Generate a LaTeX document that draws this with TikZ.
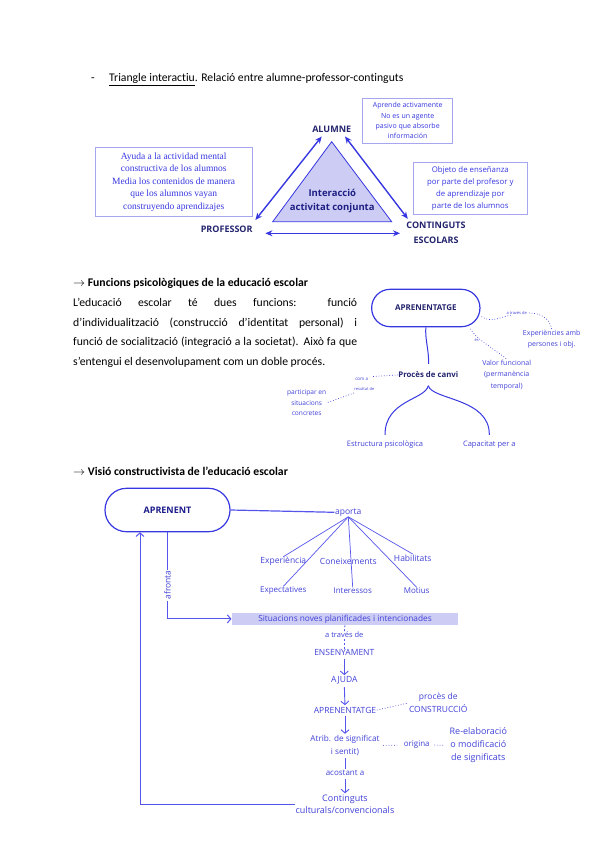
\documentclass[tikz,border=0pt]{standalone}
\usepackage{fontspec}
\setmainfont{Carlito}[Ligatures=NoCommon]
\newfontfamily\osans{Open Sans}
\newfontfamily\lserif{Liberation Serif}
\usetikzlibrary{arrows.meta}
\definecolor{dblue}{RGB}{55,55,225}
\definecolor{lblue}{RGB}{85,85,235}
\definecolor{navy}{RGB}{35,35,110}
\definecolor{boxline}{RGB}{165,165,240}
\definecolor{lav}{RGB}{204,204,244}
\definecolor{txtblue}{RGB}{65,65,215}
\begin{document}
\begin{tikzpicture}[x=1pt,y=-1pt,
  body/.style={inner sep=0, anchor=base west, font=\fontsize{11.7}{13}\selectfont},
  tri/.style={inner sep=0, text=navy, font=\osans\bfseries\fontsize{9}{15}\selectfont, align=center},
  tarrow/.style={dblue, line width=1.4pt, {Stealth[length=7pt,width=6pt]}-{Stealth[length=7pt,width=6pt]}},
  infobox/.style={draw=boxline, line width=0.8pt, fill=white, align=center, text=dblue, inner sep=0},
  mlab/.style={inner sep=0.5pt, text=txtblue, font=\osans\fontsize{7}{11.7}\selectfont, align=center},
  tiny/.style={inner sep=0.3pt, fill=white, text=txtblue, font=\osans\fontsize{4}{5}\selectfont},
  dotl/.style={txtblue, line width=0.7pt, dotted},
  blab/.style={inner sep=0.5pt, text=txtblue, font=\osans\fontsize{8.5}{12}\selectfont, align=center},
  barrow/.style={lblue, line width=0.9pt, -{Straight Barb[length=3.5pt,width=8pt]}},
]
\useasboundingbox (0,0) rectangle (600,848);

% ---------- Section 1 ----------
\node[body] (dash1) at (91,81.5) {-};
\node[body] (h1) at (109,81.5) {\underline{Triangle interactiu}. Relació entre alumne-professor-continguts};

\node[infobox, minimum width=90, minimum height=45, font=\osans\fontsize{7}{10.3}\selectfont] (b1) at (407.7,120.8) {Aprende activamente\\No es un agente\\pasivo que absorbe\\información};
\node[infobox, minimum width=157, minimum height=69, font=\lserif\fontsize{9.5}{12.5}\selectfont] (b2) at (173.7,182) {Ayuda a la actividad mental\\constructiva de los alumnos\\Media los contenidos de manera\\que los alumnos vayan\\construyendo aprendizajes};
\node[infobox, minimum width=114, minimum height=52, font=\osans\fontsize{7.8}{12}\selectfont] (b3) at (470.3,188.8) {Objeto de enseñanza\\por parte del profesor y\\de aprendizaje por\\parte de los alumnos};

\draw[dblue, line width=0.8pt, fill=lav] (331.7,141.7) -- (272.7,221.7) -- (391.7,221.7) -- cycle;
\node[tri, font=\osans\bfseries\fontsize{9.5}{14.3}\selectfont, text=navy!85!blue] (inter) at (332.3,201) {Interacció\\activitat conjunta};

\node[tri] (alumne) at (331.7,129.3) {ALUMNE};
\node[tri] (professor) at (226.7,229.3) {PROFESSOR};
\node[tri] (contingut) at (436,232.5) {CONTINGUTS\\ESCOLARS};

\draw[tarrow] ([shift={(-10,3.7)}]alumne.south) -- ([shift={(2.6,-5.8)}]professor.north east);
\draw[tarrow] ([shift={(13.3,3.7)}]alumne.south) -- ([shift={(1.5,-2.7)}]contingut.north west);
\draw[tarrow] ([shift={(12.6,4)}]professor.east) -- ([shift={(-6.3,0.8)}]contingut.west);

% ---------- Section 2 ----------
\node[body] (h2) at (73,286) {\bfseries$\rightarrow$ Funcions psicològiques de la educació escolar};
\node[inner sep=0, anchor=base west] (par) at (73,306.5) {\parbox[t]{284pt}{\fontsize{11.7}{19.5}\selectfont\hyphenpenalty=10000\spaceskip=0.22em plus 1em minus 0.12em L’educació escolar té dues funcions: funció\linebreak d’individualització (construcció d’identitat personal) i\linebreak funció de socialització (integració a la societat). Això fa que\linebreak s’entengui el desenvolupament com un doble procés.}};

\node[draw=dblue, line width=1.2pt, rounded corners=18.5pt, minimum width=108.3, minimum height=37.4, inner sep=0, text=navy, font=\osans\bfseries\fontsize{8}{10}\selectfont] (apr) at (425.8,308) {APRENENTATGE};
\node[inner sep=0, text=navy, font=\osans\bfseries\fontsize{7.8}{10}\selectfont] (proc) at (428.3,375) {Procès de canvi};
\draw[dblue, line width=1pt, shorten >=8pt] (apr.south) .. controls (425,340) and (429,350) .. (proc.north);

\node[mlab, font=\osans\fontsize{7.5}{10}\selectfont] (estr) at (385,444.3) {Estructura psicològica};
\node[mlab, font=\osans\fontsize{7.5}{10}\selectfont] (capac) at (489.3,444.3) {Capacitat per a};
\draw[dblue, line width=1pt] ([yshift=-7.5pt]proc.south) .. controls (425,400) and (385,400) .. ([yshift=5pt]estr.north);
\draw[dblue, line width=1pt] ([yshift=-7.5pt]proc.south) .. controls (432,400) and (490,398) .. ([yshift=5pt]capac.north);

\node[mlab] (exp) at (551.7,339.2) {Experiències amb\\persones i obj.};
\node[mlab] (val) at (506.7,375) {Valor funcional\\(permanència\\temporal)};
\node[mlab, font=\osans\fontsize{6.6}{10.5}\selectfont] (part) at (306.7,402.8) {participar en\\situacions\\concretes};

\draw[dotl] ([shift={(1,8.7)}]apr.east) .. controls (490,322) and (496,319) .. (507,316) .. controls (530,310) and (548,312) .. (exp.north);
\node[tiny] (lab1) at (516.7,313.3) {a través de};
\draw[dotl] ([shift={(-10,1.6)}]apr.south east) .. controls (475,338) and (490,346) .. (val.north);
\node[tiny] (lab2) at (476.7,340) {és};
\draw[dotl] (proc.west) -- (372,376.5);
\draw[dotl] (354,393) -- (part.east);
\node[tiny, font=\osans\fontsize{4.5}{5}\selectfont] (lab3) at (361.7,379.3) {com a};
\node[tiny] (lab4) at (364.3,389.3) {resultat de};

% ---------- Section 3 ----------
\node[body] (h3) at (73,475) {\bfseries$\rightarrow$ Visió constructivista de l’educació escolar};

\node[draw=dblue, line width=1.2pt, rounded corners=21.5pt, minimum width=125, minimum height=43.4, inner sep=0, text=navy!80!blue, font=\osans\bfseries\fontsize{9}{11}\selectfont] (apt) at (167.5,510) {APRENENT};
\node[blab] (aporta) at (348.3,512.3) {aporta};
\draw[lblue, line width=1.2pt] (apt.east) -- (aporta.west);

\node[blab] (exper) at (283.3,561.7) {Experiència};
\node[blab] (conei) at (348.3,561.7) {Coneixements};
\node[blab] (habil) at (412.7,558) {Habilitats};
\node[blab, font=\osans\fontsize{8}{12}\selectfont] (expect) at (283.3,591) {Expectatives};
\node[blab, font=\osans\fontsize{8}{12}\selectfont] (inter2) at (352.7,591) {Interessos};
\node[blab, font=\osans\fontsize{8}{12}\selectfont] (motius) at (416.7,591) {Motius};
\foreach \t in {exper,expect,inter2,motius,habil}
  \draw[lblue, line width=0.7pt] (aporta.south) -- (\t.north);

\node[fill=lav, minimum width=226.6, minimum height=12.3, inner sep=0, text=txtblue, font=\osans\fontsize{8.3}{10}\selectfont] (sit) at (345,618.9) {Situacions noves planificades i intencionades};
\draw[barrow, line width=1pt] (apt.south) |- (sit.west);
\node[rotate=90, fill=white, inner sep=1pt, text=txtblue, font=\osans\fontsize{8.5}{10}\selectfont] (afr) at (167.5,585) {afronta};

\node[blab, font=\osans\fontsize{7.5}{10}\selectfont] (atraves) at (344.3,635) {a través de};
\node[blab] (ens) at (344.3,652.7) {ENSENYAMENT};
\node[blab] (ajuda) at (344.3,680.7) {AJUDA};
\node[blab] (apr2) at (345,710) {APRENENTATGE};
\node[blab, font=\osans\fontsize{8.5}{12.6}\selectfont] (proces2) at (438.3,703) {procès de\\CONSTRUCCIÓ};
\node[blab, font=\osans\fontsize{8.2}{12.4}\selectfont] (atrib) at (345,745.5) {Atrib. de significat\\i sentit)};
\node[blab, font=\osans\fontsize{8}{12}\selectfont] (origina) at (416.7,745) {origina};
\node[blab, font=\osans\fontsize{9}{12.8}\selectfont] (reel) at (478.3,745.3) {Re-elaboració\\o modificació\\de significats};
\node[blab, font=\osans\fontsize{8}{12}\selectfont] (acost) at (345,773.3) {acostant a};
\node[blab, font=\osans\fontsize{9}{11.7}\selectfont] (cont) at (345,804.2) {Continguts\\culturals/convencionals};

\draw[lblue, line width=0.8pt, dash pattern=on 2pt off 2pt] (sit.south) -- (atraves.north);
\draw[lblue, line width=0.8pt, dash pattern=on 2pt off 2pt] (atraves.south) -- (ens.north);
\draw[barrow, shorten <=2pt, shorten >=1pt] (ens.south) -- (ajuda.north);
\draw[barrow, shorten <=2pt, shorten >=1pt] (ajuda.south) -- (apr2.north);
\draw[barrow, shorten <=2pt, shorten >=1pt] (apr2.south) -- (atrib.north);
\draw[lblue, line width=0.9pt, shorten <=2pt, shorten >=1pt] (atrib.south) -- (acost.north);
\draw[barrow, shorten <=2pt, shorten >=1pt] (acost.south) -- (cont.north);
\draw[dotl] (apr2.east) -- (proces2.west);
\draw[dotl, shorten <=3pt, shorten >=4pt] (atrib.east) -- (origina.west);
\draw[dotl, shorten <=4pt, shorten >=5pt] (origina.east) -- (reel.west);
\draw[barrow, line width=1pt] (cont.west) -| ([xshift=-27.5pt]apt.south);
\end{tikzpicture}
\end{document}
